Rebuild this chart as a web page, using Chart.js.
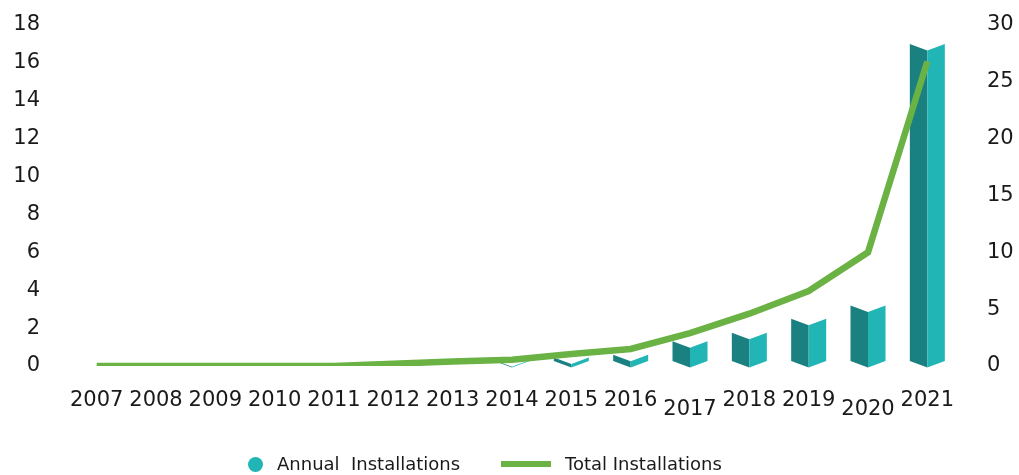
<!DOCTYPE html>
<html>
<head>
<meta charset="utf-8">
<script src="https://cdn.jsdelivr.net/npm/chart.js@4.4.0/dist/chart.umd.min.js"></script>
<style>
  html, body { margin: 0; padding: 0; background: #fff; }
  #wrap { position: relative; width: 1019px; height: 475px; }
  .lg { position: absolute; font-family: 'DejaVu Sans', sans-serif; font-size: 18px; line-height: 20px; color: #1a1a1a; white-space: pre; }
  .dot { position: absolute; width: 15px; height: 15px; border-radius: 50%; background: #22b5b5; }
  .bar { position: absolute; width: 50px; height: 6px; background: #6ab244; }
</style>
</head>
<body>
<div id="wrap">
  <canvas id="installChart" width="1019" height="475"></canvas>
  <span class="dot" style="left:248px; top:457px;"></span>
  <span class="lg" style="left:277px; top:454px;">Annual  Installations</span>
  <span class="bar" style="left:501px; top:461px;"></span>
  <span class="lg" style="left:565px; top:454px;">Total Installations</span>
</div>
<script>
var years = ['2007', '2008', '2009', '2010', '2011', '2012', '2013', '2014', '2015', '2016', '2017', '2018', '2019', '2020', '2021'];
var annualInstalls = [0, 0, 0, 0, 0, 0, 0, 0.3, 0.45, 0.6, 1.3, 1.75, 2.5, 3.2, 17.0];
var totalInstalls = [0, 0, 0, 0, 0, 0.2, 0.4, 0.55, 1.05, 1.5, 2.9, 4.6, 6.6, 10.0, 26.8];
var loweredYears = ['2017', '2020']; // these labels sit a bit lower in the original

var fontFamily = "'DejaVu Sans', sans-serif";
var textColor = '#1a1a1a';

// colors for the two faces of each bar and for the line
var colors = {
    darkFace: '#1a8080',
    lightFace: '#22b5b5',
    line: '#6ab244'
};

// draws every bar as a folded prism (dark left face, light right face)
var prismBars = {
    id: 'prismBars',
    beforeDatasetDraw: function(chart, args) {
        if (args.meta.type !== 'bar') return;
        var ctx = chart.ctx;
        var notch = 6.5;
        ctx.save();
        args.meta.data.forEach(function(bar, i) {
            if (!annualInstalls[i]) return;
            var half = bar.width / 2;
            var xl = bar.x - half, xc = bar.x, xr = bar.x + half;
            var top = bar.y;
            var bottom = bar.base - 5;

            ctx.fillStyle = colors.darkFace;
            ctx.beginPath();
            ctx.moveTo(xl, top);
            ctx.lineTo(xc, top + notch);
            ctx.lineTo(xc, bottom + notch);
            ctx.lineTo(xl, bottom);
            ctx.closePath();
            ctx.fill();

            ctx.fillStyle = colors.lightFace;
            ctx.beginPath();
            ctx.moveTo(xc, top + notch);
            ctx.lineTo(xr, top);
            ctx.lineTo(xr, bottom);
            ctx.lineTo(xc, bottom + notch);
            ctx.closePath();
            ctx.fill();
        });
        ctx.restore();
        return false;
    }
};

// y axes: fixed width, and no extra top/bottom padding from the tick padding
function fitYAxis(width) {
    return function(scale) {
        scale.width = width;
        scale.paddingTop = 0;
        scale.paddingBottom = 0;
    };
}

var ctx = document.getElementById('installChart');

var chart = new Chart(ctx, {
    data: {
        labels: years,
        datasets: [
            {
                type: 'line',
                label: 'Total Installations',
                data: totalInstalls,
                yAxisID: 'y1',
                borderColor: colors.line,
                borderWidth: 6.5,
                borderCapStyle: 'butt',
                fill: false,
                tension: 0,
                pointRadius: 0,
                order: 0
            },
            {
                type: 'bar',
                label: 'Annual Installations',
                data: annualInstalls,
                yAxisID: 'y',
                backgroundColor: colors.lightFace,
                categoryPercentage: 1,
                barPercentage: 0.59,
                order: 1
            }
        ]
    },
    options: {
        responsive: false,
        animation: false,
        layout: {
            padding: { top: 25, left: 0, right: 0, bottom: 0 }
        },
        scales: {
            x: {
                offset: true,
                grid: { display: false, drawTicks: false },
                border: { display: false },
                ticks: {
                    autoSkip: false,
                    maxRotation: 0,
                    minRotation: 0,
                    padding: 22,
                    color: textColor,
                    font: function(c) {
                        var lowered = loweredYears.indexOf(years[c.index]) >= 0;
                        return { family: fontFamily, size: 21, lineHeight: lowered ? 2.06 : 1.2 };
                    }
                },
                afterFit: function(scale) { scale.height = 109; }
            },
            y: {
                position: 'left',
                min: 0,
                max: 18,
                grid: { display: false, drawTicks: false },
                border: { display: false },
                ticks: {
                    stepSize: 2,
                    padding: 27,
                    color: textColor,
                    font: { family: fontFamily, size: 21 }
                },
                afterFit: fitYAxis(67)
            },
            y1: {
                position: 'right',
                min: 0,
                max: 30,
                grid: { display: false, drawTicks: false },
                border: { display: false },
                ticks: {
                    stepSize: 5,
                    padding: 30,
                    color: textColor,
                    font: { family: fontFamily, size: 21 }
                },
                afterFit: fitYAxis(62)
            }
        },
        plugins: {
            legend: { display: false },
            tooltip: { enabled: false }
        }
    },
    plugins: [prismBars]
});
</script>
</body>
</html>
